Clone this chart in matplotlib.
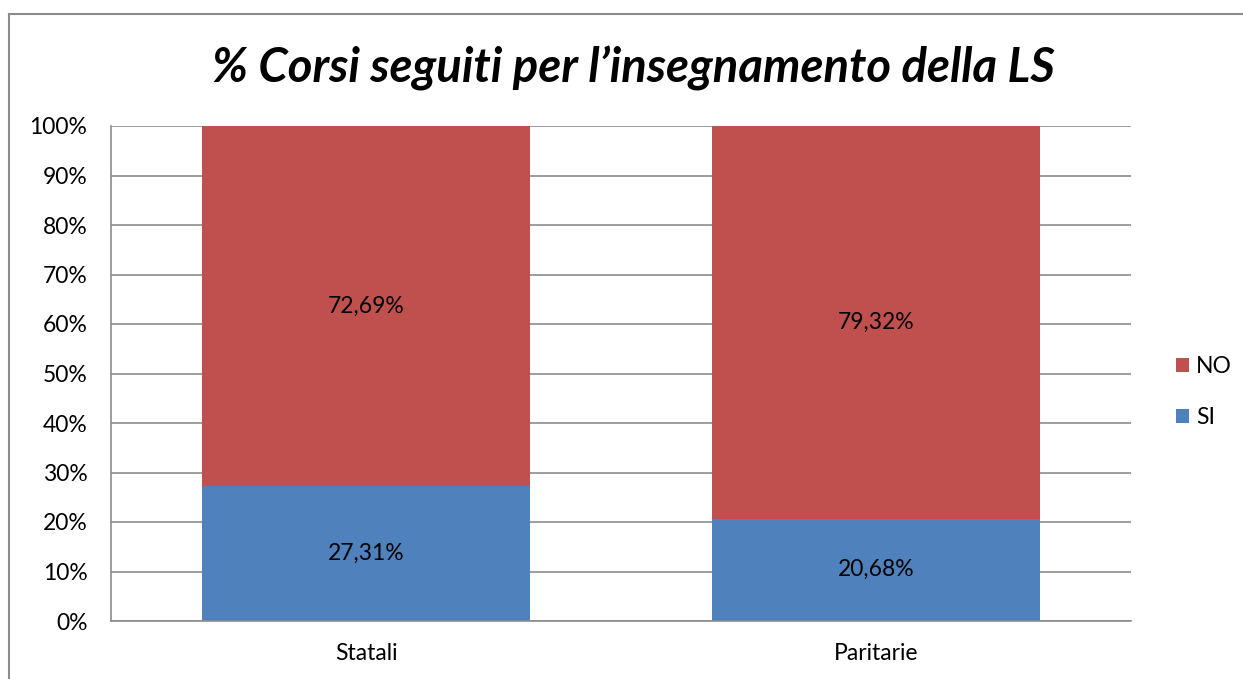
import matplotlib.pyplot as plt
from matplotlib.lines import Line2D

categories = ['Statali', 'Paritarie']
si_values = [27.31, 20.68]
no_values = [72.69, 79.32]
si_labels = ['27,31%', '20,68%']
no_labels = ['72,69%', '79,32%']
y_ticks = list(range(0, 101, 10))

plt.rcParams['font.family'] = ['Lato', 'DejaVu Sans']

fig = plt.figure(figsize=(12.43, 6.79), dpi=100)
W, H = 1243, 679
ax = fig.add_axes([111 / W, 1 - 621 / H, (1131 - 111) / W, (621 - 126) / H])

x = range(len(categories))
width = 0.645
blue = '#4f81bd'
red = '#c0504d'
b1 = ax.bar(x, si_values, width, color=blue, label='SI', zorder=2)
b2 = ax.bar(x, no_values, width, bottom=si_values, color=red, label='NO', zorder=2)

for i in x:
    ax.text(i, si_values[i] / 2, si_labels[i], ha='center', va='center', fontsize=16.5)
    ax.text(i, si_values[i] + no_values[i] / 2, no_labels[i], ha='center', va='center', fontsize=16.5)

ax.set_xlim(-0.5, 1.5)
ax.set_ylim(0, 100)
ax.set_yticks(y_ticks)
ax.set_yticklabels([f'{t}%' for t in y_ticks], fontsize=16.5)
ax.set_xticks(list(x))
ax.set_xticklabels(categories, fontsize=16.5)
ax.tick_params(axis='y', length=0, pad=17)
ax.tick_params(axis='x', length=0, pad=16)
ax.grid(axis='y', color='#8c8c8c', linewidth=1.2, zorder=0)
ax.set_axisbelow(True)
for s in ['top', 'right']:
    ax.spines[s].set_visible(False)
for s in ['left', 'bottom']:
    ax.spines[s].set_color('#8c8c8c')
    ax.spines[s].set_linewidth(1.2)

handles = [b2, b1]
fig.legend(handles, ['NO', 'SI'], loc='center left', bbox_to_anchor=(1155 / W, 1 - 392 / H),
           frameon=False, fontsize=16.5, handlelength=0.6, handleheight=0.6,
           handletextpad=0.3, labelspacing=1.3)

fig.text(633 / W, 1 - 68 / H, '% Corsi seguiti per l\u2019insegnamento della LS',
         ha='center', va='center', fontsize=34, fontweight='bold', fontstyle='italic')

# cornice del grafico (solo sinistra e sopra visibili)
bx, by = 9 / W, 1 - 14 / H
fig.add_artist(Line2D([bx, 1.0], [by, by], transform=fig.transFigure, color='#8c8c8c', linewidth=1.5))
fig.add_artist(Line2D([bx, bx], [0.0, by], transform=fig.transFigure, color='#8c8c8c', linewidth=1.5))

fig.savefig('out.png', dpi=100)
